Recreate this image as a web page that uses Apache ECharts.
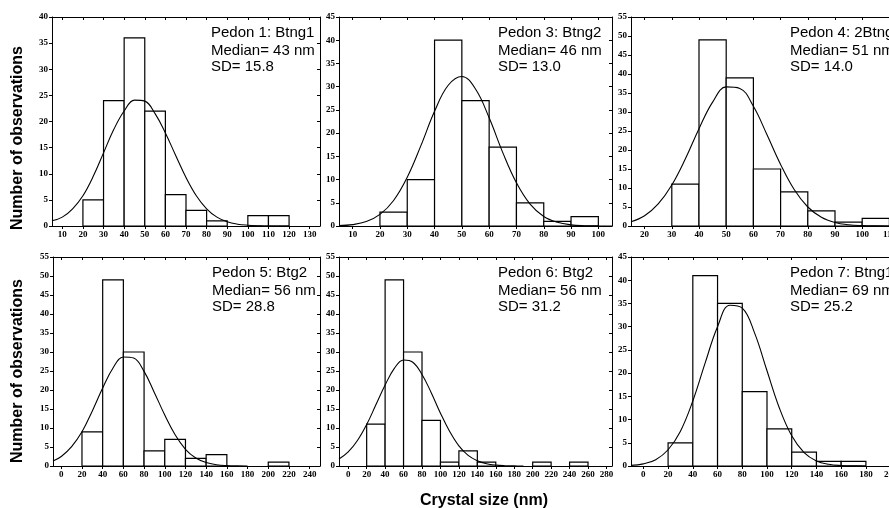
<!DOCTYPE html>
<html><head><meta charset="utf-8">
<script src="https://cdn.jsdelivr.net/npm/echarts@6/dist/echarts.min.js"></script>
<style>html,body{margin:0;padding:0;background:#fff}#c{width:889px;height:508px}</style>
</head><body><div id="c"></div>
<script>
// ---------- DATA ----------
const panelTitles  = ['Pedon 1: Btng1', 'Pedon 3: Btng2', 'Pedon 4: 2Btng1', 'Pedon 5: Btg2', 'Pedon 6: Btg2', 'Pedon 7: Btng1'];
const panelMedians = ['Median= 43 nm', 'Median= 46 nm', 'Median= 51 nm', 'Median= 56 nm', 'Median= 56 nm', 'Median= 69 nm'];
const panelSDs     = ['SD= 15.8', 'SD= 13.0', 'SD= 14.0', 'SD= 28.8', 'SD= 31.2', 'SD= 25.2'];
const yAxisTitle = 'Number of observations';
const xAxisTitle = 'Crystal size (nm)';

// x tick labels
const p1XTicks = [10,20,30,40,50,60,70,80,90,100,110,120,130];
const p3XTicks = [10,20,30,40,50,60,70,80,90,100];
const p4XTicks = [20,30,40,50,60,70,80,90,100,110];
const p5XTicks = [0,20,40,60,80,100,120,140,160,180,200,220,240];
const p6XTicks = [0,20,40,60,80,100,120,140,160,180,200,220,240,260,280];
const p7XTicks = [0,20,40,60,80,100,120,140,160,180,200];
// y axis maxima
const yMaxes = [40, 45, 55, 55, 55, 45];
// x axis ranges
const xMins = [5, 5, 15, -8, -10, -10];
const xMaxs = [135, 105, 115, 250, 286, 210];

// histogram bins (start of bin) and counts
const binWidths = [10, 10, 10, 20, 20, 20];
const p1BinStarts = [20,30,40,50,60,70,80,100,110];
const p1Counts    = [5,24,36,22,6,3,1,2,2];
const p3BinStarts = [20,30,40,50,60,70,80,90];
const p3Counts    = [3,10,40,27,17,5,1,2];
const p4BinStarts = [30,40,50,60,70,80,90,100];
const p4Counts    = [11,49,39,15,9,4,1,2];
const p5BinStarts = [20,40,60,80,100,120,140,200];
const p5Counts    = [9,49,30,4,7,2,3,1];
const p6BinStarts = [20,40,60,80,100,120,140,200,240];
const p6Counts    = [11,49,30,12,1,4,1,1,1];
const p7BinStarts = [20,40,60,80,100,120,140,160];
const p7Counts    = [5,41,35,16,8,3,1,1];

// fitted normal curves
const p1CurveX = [5,10,15,20,25,30,35,40,45,50,55,60,65,70,75,80,85,90,95,100,105,110,120];
const p1CurveY = [1.0,1.7,3.3,5.8,9.5,14.0,18.5,22.0,24.1,23.9,21.5,17.8,13.5,9.3,5.8,3.3,1.7,0.8,0.35,0.15,0.05,0,0];
const p3CurveX = [5,10,15,20,25,30,35,40,45,50,55,60,65,70,75,80,85,90,95,100,105];
const p3CurveY = [0.1,0.3,0.95,2.5,5.5,10.5,17.3,24.7,30.3,32.2,29.5,23.3,15.8,9.3,4.7,2.05,0.8,0.25,0.07,0.02,0];
const p4CurveX = [15,20,25,30,35,40,45,50,55,60,65,70,75,80,85,90,95,100,105,110,115];
const p4CurveY = [1.1,2.7,5.8,10.8,17.7,25.6,32.6,36.6,36.2,31.5,24.0,16.2,9.6,5.0,2.3,0.93,0.33,0.1,0.03,0,0];
const p5CurveX = [-8,0,10,20,30,40,50,60,70,80,90,100,110,120,130,140,150,160,170,180];
const p5CurveY = [1.3,2.5,5.1,9.0,14.5,20.5,25.8,28.7,28.4,24.9,19.3,13.4,8.2,4.4,2.1,0.9,0.35,0.12,0.03,0];
const p6CurveX = [-10,0,10,20,30,40,50,60,70,80,90,100,110,120,130,140,150,160,170,180,190];
const p6CurveY = [1.85,3.7,6.7,10.9,16.1,21.3,25.7,27.9,27.3,24.1,19.3,13.9,9.1,5.3,2.8,1.4,0.6,0.23,0.08,0.03,0];
const p7CurveX = [-10,0,10,20,30,40,50,60,70,80,90,100,110,120,130,140,150,160,170,180];
const p7CurveY = [0.13,0.45,1.35,3.5,7.5,14.0,22.2,30.0,34.6,34.0,28.6,20.5,12.5,6.5,2.9,1.1,0.36,0.1,0.03,0];

// ---------- LAYOUT ----------
const grids = [
  {left: 52,  top: 17,  width: 268, height: 209},
  {left: 339, top: 17,  width: 273, height: 209},
  {left: 631, top: 17,  width: 272, height: 209},
  {left: 53,  top: 257, width: 267, height: 209},
  {left: 339, top: 257, width: 273, height: 209},
  {left: 631, top: 257, width: 272, height: 209}
];
const xTicksAll = [p1XTicks, p3XTicks, p4XTicks, p5XTicks, p6XTicks, p7XTicks];
const binStartsAll = [p1BinStarts, p3BinStarts, p4BinStarts, p5BinStarts, p6BinStarts, p7BinStarts];
const countsAll = [p1Counts, p3Counts, p4Counts, p5Counts, p6Counts, p7Counts];
const curveXAll = [p1CurveX, p3CurveX, p4CurveX, p5CurveX, p6CurveX, p7CurveX];
const curveYAll = [p1CurveY, p3CurveY, p4CurveY, p5CurveY, p6CurveY, p7CurveY];

const tickFont = {fontFamily: '"Liberation Serif", "Times New Roman", serif', fontWeight: 'bold', fontSize: 9, color: '#000'};
const black = {color: '#000', width: 1};

const xAxes = [], yAxes = [], series = [], graphics = [];
grids.forEach((g, i) => {
  const ticks = xTicksAll[i];
  xAxes.push({
    gridIndex: i, type: 'value', min: xMins[i], max: xMaxs[i], position: 'bottom',
    axisLine: {show: true, onZero: false, lineStyle: black},
    axisTick: {show: true, inside: false, length: 3, customValues: ticks, lineStyle: black},
    axisLabel: Object.assign({show: true, margin: 4, customValues: ticks}, tickFont),
    splitLine: {show: false}
  });
  xAxes.push({
    gridIndex: i, type: 'value', min: xMins[i], max: xMaxs[i], position: 'top',
    axisLine: {show: true, onZero: false, lineStyle: black},
    axisTick: {show: true, inside: true, length: 3, customValues: ticks, lineStyle: black},
    axisLabel: {show: false}, splitLine: {show: false}
  });
  yAxes.push({
    gridIndex: i, type: 'value', min: 0, max: yMaxes[i], interval: 5, position: 'left',
    axisLine: {show: true, onZero: false, lineStyle: black},
    axisTick: {show: true, inside: false, length: 3, lineStyle: black},
    axisLabel: Object.assign({show: true, margin: 4}, tickFont),
    splitLine: {show: false}
  });
  yAxes.push({
    gridIndex: i, type: 'value', min: 0, max: yMaxes[i], interval: 5, position: 'right',
    axisLine: {show: true, onZero: false, lineStyle: black},
    axisTick: {show: true, inside: true, length: 3, lineStyle: black},
    axisLabel: {show: false}, splitLine: {show: false}
  });
  const bw = binWidths[i];
  series.push({
    type: 'custom', xAxisIndex: 2 * i, yAxisIndex: 2 * i,
    data: binStartsAll[i].map((s, k) => [s, s + bw, countsAll[i][k]]),
    encode: {x: [0, 1], y: 2},
    clip: true, z: 2,
    renderItem: function (params, api) {
      const a = api.coord([api.value(0), 0]);
      const b = api.coord([api.value(1), api.value(2)]);
      return {
        type: 'rect',
        shape: {x: a[0], y: b[1], width: b[0] - a[0], height: a[1] - b[1]},
        style: {fill: '#fff', stroke: '#000', lineWidth: 1.2}
      };
    }
  });
  series.push({
    type: 'line', xAxisIndex: 2 * i, yAxisIndex: 2 * i,
    data: curveXAll[i].map((x, k) => [x, curveYAll[i][k]]),
    smooth: 0.4, symbol: 'none', z: 3, clip: true,
    lineStyle: {color: '#000', width: 1.1}
  });
  const tx = g.left + 159, ty = g.top;
  const lines = [panelTitles[i], panelMedians[i], panelSDs[i]];
  const offs = [16, 34, 49.5];
  lines.forEach((t, k) => {
    graphics.push({
      type: 'text', x: tx, y: ty + offs[k], z: 10,
      style: {text: t, fill: '#000', font: '15px "Liberation Sans", Arial, sans-serif', align: 'left', verticalAlign: 'middle'}
    });
  });
});

graphics.push({
  type: 'text', x: 18, y: 138, rotation: Math.PI / 2,
  style: {text: yAxisTitle, fill: '#000', font: 'bold 16px "Liberation Sans", Arial, sans-serif', align: 'center', verticalAlign: 'middle'}
});
graphics.push({
  type: 'text', x: 18, y: 371, rotation: Math.PI / 2,
  style: {text: yAxisTitle, fill: '#000', font: 'bold 16px "Liberation Sans", Arial, sans-serif', align: 'center', verticalAlign: 'middle'}
});
graphics.push({
  type: 'text', x: 484, y: 501, 
  style: {text: xAxisTitle, fill: '#000', font: 'bold 16px "Liberation Sans", Arial, sans-serif', align: 'center', verticalAlign: 'middle'}
});

const chart = echarts.init(document.getElementById('c'), null, {renderer: 'canvas'});
chart.setOption({
  animation: false,
  backgroundColor: '#fff',
  grid: grids.map(g => Object.assign({containLabel: false, outerBoundsMode: 'none'}, g)),
  xAxis: xAxes,
  yAxis: yAxes,
  series: series,
  graphic: graphics
});
</script>
</body></html>
